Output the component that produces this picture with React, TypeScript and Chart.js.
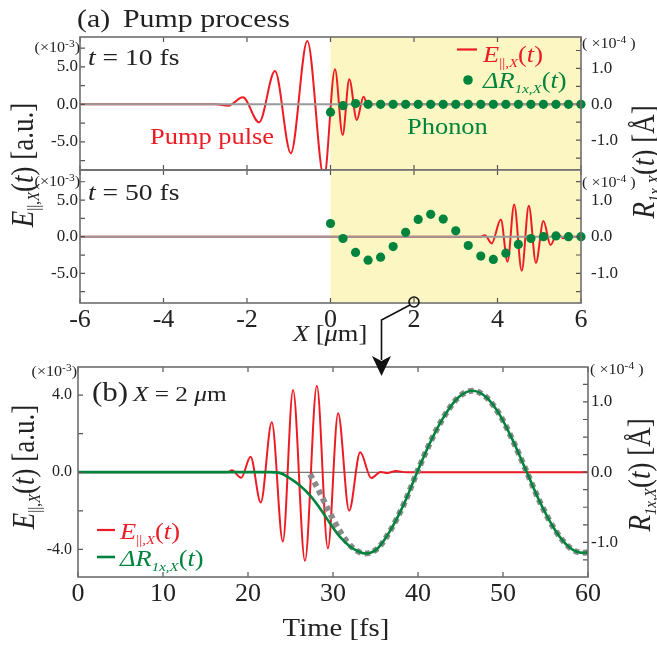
import React, { useEffect, useRef } from 'react';
import { Chart, registerables } from 'chart.js';

Chart.register(...registerables);

// ---------- data ----------
// Panel (a), t = 10 fs : pump pulse E(X) [x1e-3 a.u.]
const A1_PULSE_X = [-6, -2.75, -2.45, -2.1, -1.71, -1.33, -0.95, -0.555, -0.155, 0.108, 0.29, 0.45, 0.63, 0.79, 0.91, 1.02, 6];
const A1_PULSE_E = [0, 0, -0.2, 0.93, -2.4, 4.44, -6.53, 8.44, -9.8, 4.67, -4.09, 3.33, -2.09, 1.02, -0.3, 0, 0];
// Panel (a), t = 50 fs
const A2_PULSE_X = [-6, 3.6, 3.7, 3.86, 4.08, 4.24, 4.4, 4.58, 4.75, 4.92, 5.1, 5.27, 5.43, 5.58, 5.7, 6];
const A2_PULSE_E = [0, 0, 0.2, -0.91, 2.36, -3.41, 4.41, -4.64, 4.23, -3.55, 2.14, -1.14, 0.45, -0.2, 0, 0];
// Phonon displacement dots dR(X) [x1e-4 A]
const DOT_X = [0, 0.3, 0.6, 0.9, 1.2, 1.5, 1.8, 2.1, 2.4, 2.7, 3.0, 3.3, 3.6, 3.9, 4.2, 4.5, 4.8, 5.1, 5.4, 5.7, 6.0];
const A1_DOT_R = [-0.22, -0.04, 0.02, 0, 0, 0, 0, 0, 0, 0, 0, 0, 0, 0, 0, 0, 0, 0, 0, 0, 0];
const A2_DOT_R = [0.36, -0.05, -0.43, -0.64, -0.56, -0.27, 0.12, 0.47, 0.61, 0.48, 0.16, -0.24, -0.53, -0.62, -0.45, -0.21, -0.05, 0, 0.02, 0, 0];
const MATERIAL_RANGE = [0, 6];
const ZERO_X = [-6, 6];

// Panel (b), X = 2 um
const B_T_E = [0, 17.6, 18.1, 19.2, 20.3, 21.5, 22.8, 24.1, 25.3, 26.7, 28.1, 29.4, 30.6, 31.9, 33.2, 34.5, 35.6, 36.4, 37.4, 38.6, 60];
const B_E = [0, 0, 0.1, -0.28, 0.81, -1.57, 2.59, -3.59, 4.27, -4.59, 4.49, -3.94, 3.06, -1.99, 1.04, -0.3, 0.02, -0.04, 0.07, 0, 0];
const B_T_R = [0, 22.5, 23.8, 24.9, 26.1, 27.3, 28.5, 29.6, 30.8, 32.0, 33.0, 33.8, 35.3, 36.8, 38.4, 39.9, 41.5, 43.2, 44.8, 46.4, 48.0, 49.6, 51.2, 52.8, 54.4, 56.1, 57.8, 59.4, 60];
const B_R = [0, 0, -0.014, -0.085, -0.19, -0.33, -0.52, -0.72, -0.92, -1.06, -1.13, -1.16, -1.08, -0.82, -0.44, 0, 0.44, 0.82, 1.07, 1.16, 1.07, 0.82, 0.44, 0, -0.44, -0.82, -1.07, -1.15, -1.14];
const B_T_FIT = [27.3, 28.4, 29.5, 30.6, 31.7, 32.8, 33.8, 35.3, 36.8, 38.4, 39.9, 41.5, 43.2, 44.8, 46.4, 48.0, 49.6, 51.2, 52.8, 54.4, 56.1, 57.8, 59.4, 60];
const B_FIT = [-0.03, -0.28, -0.55, -0.8, -1.0, -1.12, -1.16, -1.08, -0.82, -0.44, 0, 0.44, 0.82, 1.07, 1.16, 1.07, 0.82, 0.44, 0, -0.44, -0.82, -1.07, -1.15, -1.14];
const B_ZERO_T = [0, 60];

// ticks
const A_X_TICKS = [-6, -4, -2, 0, 2, 4, 6];
const A_LEFT_TICKS = [-7.5, -5, -2.5, 0, 2.5, 5, 7.5];
const A_RIGHT_TICKS = [-1.5, -1, -0.5, 0, 0.5, 1, 1.5];
const B_X_TICKS = [0, 10, 20, 30, 40, 50, 60];
const B_LEFT_TICKS = [-4, -2, 0, 2, 4];
const B_RIGHT_TICKS = [-1.25, -1, -0.75, -0.5, -0.25, 0, 0.25, 0.5, 0.75, 1, 1.25];

// ---------- styles ----------
const SERIF = "'Liberation Serif', 'Times New Roman', serif";
const RED = '#ed1c24';
const GREEN = '#00843d';
const YELLOW = '#fcf7c2';
const FRAME = '#6e6e6e';
const TICKC = '#555555';
const SX = 1.15;

const pts = (xs: number[], ys: number[]) => xs.map((x, i) => ({ x, y: ys[i] }));
const isMult = (v: number, s: number) => Math.abs(v / s - Math.round(v / s)) < 1e-6;

function framePlugin(xt: number[], lt: number[], rt: number[], yellow?: number[]) {
  return {
    id: 'frameTicks',
    beforeDatasetsDraw(chart: any) {
      const { ctx, chartArea: a, scales } = chart;
      if (yellow) {
        const x0 = scales.x.getPixelForValue(yellow[0]);
        const x1 = scales.x.getPixelForValue(yellow[1]);
        ctx.save();
        ctx.fillStyle = YELLOW;
        ctx.fillRect(x0, a.top, x1 - x0, a.bottom - a.top);
        ctx.restore();
      }
    },
    afterDatasetsDraw(chart: any) {
      const { ctx, chartArea: a, scales } = chart;
      const L = 5;
      ctx.save();
      ctx.strokeStyle = TICKC;
      ctx.lineWidth = 1.2;
      ctx.beginPath();
      xt.forEach((v) => {
        const p = scales.x.getPixelForValue(v);
        ctx.moveTo(p, a.bottom); ctx.lineTo(p, a.bottom - L);
        ctx.moveTo(p, a.top); ctx.lineTo(p, a.top + L);
      });
      lt.forEach((v) => {
        const p = scales.y.getPixelForValue(v);
        ctx.moveTo(a.left, p); ctx.lineTo(a.left + L, p);
      });
      rt.forEach((v) => {
        const p = scales.y2.getPixelForValue(v);
        ctx.moveTo(a.right, p); ctx.lineTo(a.right - L, p);
      });
      ctx.stroke();
      ctx.strokeStyle = FRAME;
      ctx.lineWidth = 1.6;
      ctx.strokeRect(a.left, a.top, a.right - a.left, a.bottom - a.top);
      ctx.restore();
    },
  };
}

function yAxis(pos: string, min: number, max: number, width: number, ticks: number[], step: number, padding: number, size: number) {
  return {
    type: 'linear', position: pos, min, max,
    afterFit: (s: any) => { s.width = width; },
    afterBuildTicks: (s: any) => { s.ticks = ticks.map((v) => ({ value: v })); },
    grid: { display: false, drawTicks: false }, border: { display: false },
    ticks: {
      autoSkip: false, padding, color: '#222', font: { family: SERIF, size },
      callback: (v: any) => (isMult(Number(v), step) ? Number(v).toFixed(1) : ''),
    },
  };
}

function xAxis(min: number, max: number, ticks: number[], height: number, size: number, show: boolean, padding: number) {
  return {
    type: 'linear', position: 'bottom', min, max, display: show,
    afterFit: (s: any) => { s.height = height; },
    afterBuildTicks: (s: any) => { s.ticks = ticks.map((v) => ({ value: v })); },
    grid: { display: false, drawTicks: false }, border: { display: false },
    ticks: { autoSkip: false, maxRotation: 0, padding, color: '#222', font: { family: SERIF, size }, callback: (v: any) => String(v) },
  };
}

const line = (data: any, color: string, width: number, yAxisID: string, order: number, extra: any = {}) => ({
  type: 'line', data, borderColor: color, borderWidth: width, pointRadius: 0, fill: false,
  cubicInterpolationMode: 'monotone', yAxisID, order, clip: 0, ...extra,
});

const dots = (data: any, order: number) => ({
  type: 'line', data, showLine: false, pointRadius: 4.6, pointBackgroundColor: GREEN, pointBorderWidth: 0,
  borderColor: GREEN, yAxisID: 'y2', order, clip: 8,
});

const base = (padTop: number, padBottom: number) => ({
  animation: false, responsive: false, devicePixelRatio: 1, events: [],
  layout: { padding: { top: padTop, bottom: padBottom, left: 0, right: 0 } },
  plugins: { legend: { display: false }, tooltip: { enabled: false } },
});

function cfgA(pulseX: number[], pulseE: number[], dotR: number[], yl: number[], yr: number[], showX: boolean, padTop: number, padBottom: number, xh: number) {
  return {
    type: 'line',
    data: {
      datasets: [
        dots(pts(DOT_X, dotR), 0),
        line(pts(ZERO_X, [0, 0]), '#9a9a9a', 2, 'y', 1),
        line(pts(pulseX, pulseE), RED, 2, 'y', 2),
      ],
    },
    options: {
      ...base(padTop, padBottom),
      scales: {
        x: xAxis(-6, 6, A_X_TICKS, xh, 26, showX, 1.5),
        y: yAxis('left', yl[0], yl[1], 80, A_LEFT_TICKS, 5, 2, 17),
        y2: yAxis('right', yr[0], yr[1], 76, A_RIGHT_TICKS, 1, 10, 17),
      },
    },
    plugins: [framePlugin(A_X_TICKS, A_LEFT_TICKS, A_RIGHT_TICKS, MATERIAL_RANGE)],
  };
}

function cfgB() {
  return {
    type: 'line',
    data: {
      datasets: [
        line(pts(B_T_R, B_R), GREEN, 2.6, 'y2', 0),
        line(pts(B_T_FIT, B_FIT), '#8a8a8a', 6, 'y2', 1, { borderDash: [5, 4] }),
        line(pts(B_T_E, B_E), RED, 2, 'y', 2),
        line(pts(B_ZERO_T, [0, 0]), '#555555', 1, 'y', 3),
      ],
    },
    options: {
      ...base(30, 0),
      scales: {
        x: xAxis(0, 60, B_X_TICKS, 71, 26, true, 2),
        y: yAxis('left', -5.43, 5.46, 78, B_LEFT_TICKS, 4, 6, 16),
        y2: yAxis('right', -1.494, 1.498, 69, B_RIGHT_TICKS, 1, 3, 17),
      },
    },
    plugins: [framePlugin(B_X_TICKS, B_LEFT_TICKS, B_RIGHT_TICKS)],
  };
}

// ---------- text helpers ----------
function Txt(props: { x: number; y: number; size: number; fill?: string; anchor?: string; rot?: number; children: any }) {
  const { x, y, size, fill = '#222', anchor = 'start', rot = 0, children } = props;
  const tr = `translate(${x},${y}) scale(${SX},1)` + (rot ? ` rotate(${rot})` : '');
  return (
    <text transform={tr} fontFamily={SERIF} fontSize={size} fill={fill} textAnchor={anchor as any}>
      {children}
    </text>
  );
}

const ELabel = (sub: number, d: number, tail: string) => [
  <tspan key="a" fontStyle="italic">E</tspan>,
  <tspan key="b" fontSize={sub} dy={d}>||,</tspan>,
  <tspan key="c" fontSize={sub} fontStyle="italic">X</tspan>,
  <tspan key="d" dy={-d}>(</tspan>,
  <tspan key="e" fontStyle="italic">t</tspan>,
  <tspan key="f">{')' + tail}</tspan>,
];

const RLabel = (sub: number, d: number, delta: boolean, tail: string) => [
  <tspan key="a" fontStyle="italic">{delta ? 'ΔR' : 'R'}</tspan>,
  <tspan key="b" fontSize={sub} dy={d} fontStyle="italic">1x,X</tspan>,
  <tspan key="d" dy={-d}>(</tspan>,
  <tspan key="e" fontStyle="italic">t</tspan>,
  <tspan key="f">{')' + tail}</tspan>,
];

const Pow = (exp: string, leftSpace: boolean) => [
  <tspan key="a">{leftSpace ? '( ×10' : '(×10'}</tspan>,
  <tspan key="b" fontSize={10} dy={-5}>{exp}</tspan>,
  <tspan key="c" dy={5}>{leftSpace ? ' )' : ')'}</tspan>,
];

export default function App() {
  const r1 = useRef<HTMLCanvasElement>(null);
  const r2 = useRef<HTMLCanvasElement>(null);
  const r3 = useRef<HTMLCanvasElement>(null);

  useEffect(() => {
    const charts = [
      new Chart(r1.current as any, cfgA(A1_PULSE_X, A1_PULSE_E, A1_DOT_R, [-8.76, 8.97], [-1.833, 1.877], false, 37, 30, 0) as any),
      new Chart(r2.current as any, cfgA(A2_PULSE_X, A2_PULSE_E, A2_DOT_R, [-9.04, 9.1], [-1.81, 1.82], true, 30, 0, 47) as any),
      new Chart(r3.current as any, cfgB() as any),
    ];
    return () => charts.forEach((c) => c.destroy());
  }, []);

  const cv = (top: number): React.CSSProperties => ({ position: 'absolute', left: 0, top });

  return (
    <div style={{ position: 'absolute', left: 0, top: 0, width: 657, height: 648, background: '#fff', overflow: 'hidden' }}>
      <canvas ref={r1} width={657} height={200} style={cv(0)} />
      <canvas ref={r2} width={657} height={210} style={cv(140)} />
      <canvas ref={r3} width={657} height={311} style={cv(337)} />
      <svg width={657} height={648} style={{ position: 'absolute', left: 0, top: 0, pointerEvents: 'none' }}>
        {/* panel a texts */}
        <Txt x={77} y={27} size={26}>(a)</Txt>
        <Txt x={123} y={27} size={26}>Pump process</Txt>
        <Txt x={88} y={65} size={24}><tspan fontStyle="italic">t</tspan> = 10 fs</Txt>
        <Txt x={88} y={200} size={24}><tspan fontStyle="italic">t</tspan> = 50 fs</Txt>
        <Txt x={150} y={144} size={23} fill={RED}>Pump pulse</Txt>
        <Txt x={407} y={134} size={23} fill={GREEN}>Phonon</Txt>
        <line x1={457} y1={49.5} x2={477} y2={49.5} stroke={RED} strokeWidth={2.2} />
        <Txt x={483} y={62} size={23} fill={RED}>{ELabel(13, 5, '')}</Txt>
        <circle cx={468} cy={80} r={4.8} fill={GREEN} />
        <Txt x={483} y={88} size={23} fill={GREEN}>{RLabel(13, 5, true, '')}</Txt>
        <Txt x={80} y={52} size={14} anchor="end">{Pow('-3', false)}</Txt>
        <Txt x={80} y={186} size={14} anchor="end">{Pow('-3', false)}</Txt>
        <Txt x={582} y={48} size={14}>{Pow('-4', true)}</Txt>
        <Txt x={582} y={187} size={14}>{Pow('-4', true)}</Txt>
        <Txt x={33} y={165} size={27} anchor="middle" rot={-90}>{ELabel(15, 5, ' [a.u.]')}</Txt>
        <Txt x={654} y={162} size={27} anchor="middle" rot={-90}>{RLabel(15, 5, false, ' [Å]')}</Txt>
        <Txt x={293} y={341} size={23}><tspan fontStyle="italic">X</tspan> [<tspan fontStyle="italic">μ</tspan>m]</Txt>
        {/* arrow */}
        <circle cx={414} cy={302} r={5} fill="none" stroke="#111" strokeWidth={1.6} />
        <polyline points="410,305 381.5,320 381.5,360" fill="none" stroke="#111" strokeWidth={1.6} />
        <polygon points="372,356 381.5,361 391,356 381.5,376" fill="#111" />
        {/* panel b texts */}
        <Txt x={92} y={401} size={27}>(b)</Txt>
        <Txt x={133} y={401} size={22}><tspan fontStyle="italic">X</tspan> = 2 <tspan fontStyle="italic">μ</tspan>m</Txt>
        <Txt x={77} y={376} size={14} anchor="end">{Pow('-3', false)}</Txt>
        <Txt x={590} y={374} size={14}>{Pow('-4', true)}</Txt>
        <Txt x={34} y={467} size={27} anchor="middle" rot={-90}>{ELabel(15, 5, ' [a.u.]')}</Txt>
        <Txt x={650} y={475} size={27} anchor="middle" rot={-90}>{RLabel(15, 5, false, ' [Å]')}</Txt>
        <line x1={97} y1={530} x2={115} y2={530} stroke={RED} strokeWidth={2.2} />
        <Txt x={120} y={539} size={23} fill={RED}>{ELabel(13, 5, '')}</Txt>
        <line x1={97} y1={557} x2={115} y2={557} stroke={GREEN} strokeWidth={2.6} />
        <Txt x={120} y={566} size={23} fill={GREEN}>{RLabel(13, 5, true, '')}</Txt>
        <Txt x={336} y={636} size={25} anchor="middle">Time [fs]</Txt>
      </svg>
    </div>
  );
}
